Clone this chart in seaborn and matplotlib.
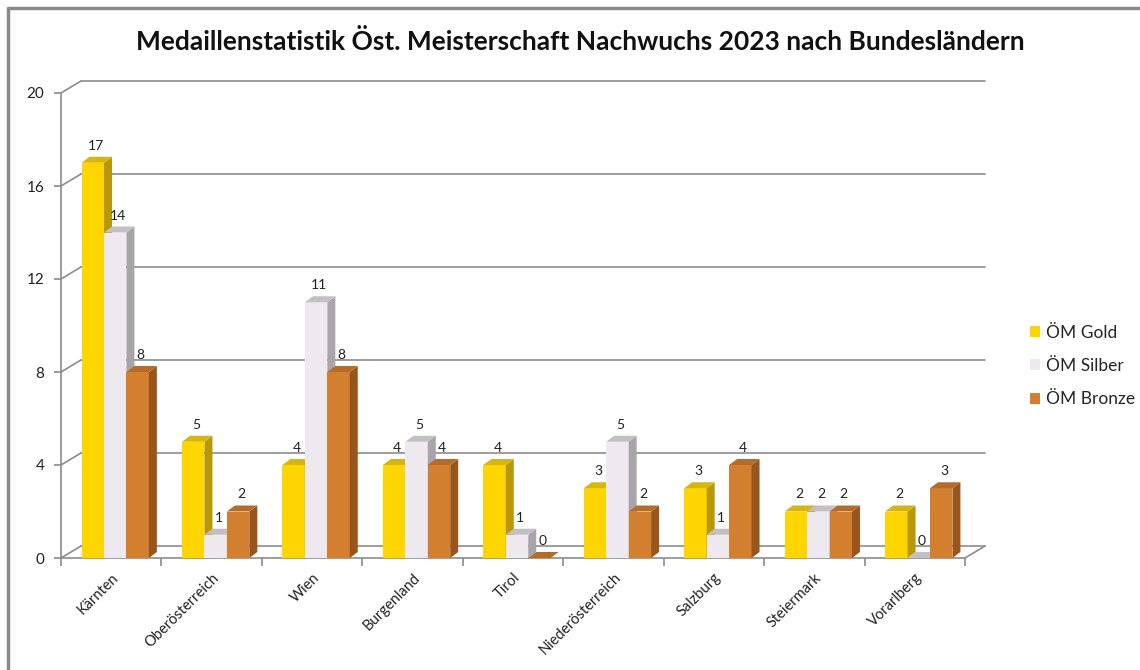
import matplotlib
matplotlib.use("Agg")
import matplotlib.pyplot as plt
from matplotlib.patches import Polygon, Patch
from matplotlib.lines import Line2D
import seaborn as sns
import pandas as pd

regions = ["Kärnten", "Oberösterreich", "Wien", "Burgenland", "Tirol",
           "Niederösterreich", "Salzburg", "Steiermark", "Vorarlberg"]
gold = [17, 5, 4, 4, 4, 3, 3, 2, 2]
silver = [14, 1, 11, 5, 1, 5, 1, 2, 0]
bronze = [8, 2, 8, 4, 0, 2, 4, 2, 3]
series_names = ["ÖM Gold", "ÖM Silber", "ÖM Bronze"]
yticks = [0, 4, 8, 12, 16, 20]
title = "Medaillenstatistik Öst. Meisterschaft Nachwuchs 2023 nach Bundesländern"

front_cols = ["#FFD500", "#EEE8EF", "#D27F30"]
side_cols = ["#B8980A", "#A9A3AA", "#98561C"]
top_cols = ["#D9B600", "#C4BEC5", "#B96B24"]

rows = []
for i, r in enumerate(regions):
    for s, vals in zip(series_names, [gold, silver, bronze]):
        rows.append({"Region": r, "Serie": s, "Anzahl": vals[i]})
df = pd.DataFrame(rows)

sns.set_theme(style="white")
plt.rcParams["font.family"] = ["Lato", "DejaVu Sans"]

W, H = 1140, 670
fig = plt.figure(figsize=(W / 100, H / 100), dpi=100)
fig.patch.set_facecolor("white")
ax = fig.add_axes([61 / W, 1 - 558 / H, 904 / W, 465 / H])
sns.barplot(data=df, x="Region", y="Anzahl", hue="Serie", order=regions,
            hue_order=series_names, palette=front_cols, width=0.67,
            saturation=1, legend=False, ax=ax, linewidth=0, edgecolor="none")
ax.set_xlim(-0.5, len(regions) - 0.5)
ax.set_ylim(0, 20)
ax.set_xlabel("")
ax.set_ylabel("")
ax.set_facecolor("none")

# pixel -> data conversion
p0 = ax.transData.transform((0, 0))
p1 = ax.transData.transform((1, 1))
upx = 1.0 / (p1[0] - p0[0])
upy = 1.0 / (p1[1] - p0[1])

# back wall grid
gdx, gdy = 20 * upx, 12 * upy
xl, xr = -0.5, len(regions) - 0.5
grid_c = "#8c8c8c"
for v in yticks:
    ax.add_line(Line2D([xl + gdx, xr + gdx], [v + gdy, v + gdy], color=grid_c,
                       lw=1.2, zorder=1, clip_on=False))
    ax.add_line(Line2D([xl, xl + gdx], [v, v + gdy], color=grid_c,
                       lw=1.2, zorder=1, clip_on=False))
ax.add_line(Line2D([xr, xr + gdx], [0, gdy], color=grid_c, lw=1.2,
                   zorder=1, clip_on=False))

# 3D faces
shift = 4 * upx
ddx, ddy = 8 * upx, 6 * upy
for k, cont in enumerate(ax.containers):
    for bar in cont:
        bar.set_x(bar.get_x() + shift)
        x0, w, h = bar.get_x(), bar.get_width(), bar.get_height()
        bar.set_zorder(3 + k)
        side = Polygon([(x0 + w, 0), (x0 + w + ddx, ddy), (x0 + w + ddx, h + ddy),
                        (x0 + w, h)], closed=True, facecolor=side_cols[k],
                       edgecolor="none", zorder=3 + k, clip_on=False)
        top = Polygon([(x0, h), (x0 + w, h), (x0 + w + ddx, h + ddy),
                       (x0 + ddx, h + ddy)], closed=True, facecolor=top_cols[k],
                      edgecolor="none", zorder=3 + k, clip_on=False)
        ax.add_patch(side)
        ax.add_patch(top)
        ax.annotate(f"{int(h)}", (x0 + w / 2, h), xytext=(3, 11),
                    textcoords="offset pixels", ha="center", va="bottom",
                    fontsize=10, color="#222222", zorder=10)

# axes styling
for s in ["top", "right"]:
    ax.spines[s].set_visible(False)
for s in ["left", "bottom"]:
    ax.spines[s].set_color(grid_c)
    ax.spines[s].set_linewidth(1.2)
ax.set_yticks(yticks)
ax.tick_params(axis="y", direction="out", length=5, color=grid_c, width=1.2,
               labelsize=11, labelcolor="#222222", pad=7, left=True)
ax.set_xticks(range(len(regions)))
ax.set_xticks([i - 0.5 for i in range(len(regions) + 1)], minor=True)
ax.tick_params(axis="x", which="major", length=0, pad=9)
ax.tick_params(axis="x", which="minor", direction="out", length=6,
               color=grid_c, width=1.2, bottom=True)
ax.set_xticklabels(regions, rotation=45, ha="right", rotation_mode="anchor",
                   fontsize=10.5, color="#222222")

fig.text(580 / W, 1 - 42 / H, title, ha="center", va="center",
         fontsize=19, fontweight="bold", color="#111111")

handles = [Patch(facecolor=c, edgecolor="none", label=n)
           for c, n in zip(front_cols, series_names)]
fig.legend(handles=handles, loc="center left",
           bbox_to_anchor=(1014 / W, 1 - 366 / H), frameon=False,
           fontsize=12.5, handlelength=0.6, handleheight=0.6,
           handletextpad=0.35, labelspacing=1.0)

# figure border (left and top)
fig.add_artist(Line2D([8 / W, 8 / W], [0, 1 - 8 / H], color="#8a8a8a", lw=2.5))
fig.add_artist(Line2D([8 / W, 1], [1 - 8 / H, 1 - 8 / H], color="#8a8a8a", lw=2.5))

fig.savefig("out.png", dpi=100, facecolor="white")
